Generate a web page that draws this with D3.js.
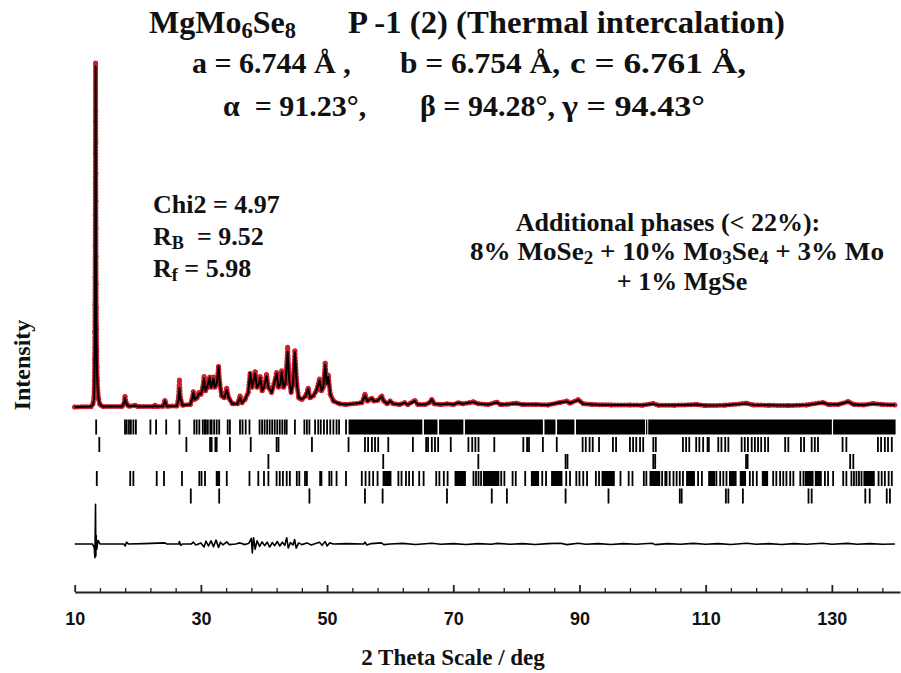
<!DOCTYPE html>
<html><head><meta charset="utf-8">
<script src="https://cdn.jsdelivr.net/npm/d3@7"></script>
<style>
html,body{margin:0;padding:0;background:#fff;}
svg{display:block;}
.serif{font-family:"Liberation Serif","Times New Roman",serif;font-weight:bold;fill:#111;white-space:pre;}
</style></head>
<body>
<svg id="chart" width="901" height="673"></svg>
<script>
// ---------- DATA ----------
const xTicksMajor = [10, 30, 50, 70, 90, 110, 130];
const xTicksMinor = [14,18,22,26,34,38,42,46,54,58,62,66,74,78,82,86,94,98,102,106,114,118,122,126,134,138];

// [2theta, observed, calculated]
const profile = [
[10.0,0.3,0.3],[12.6,0.4,0.4],[12.9,1.2,1.0],[13.05,3,2.5],[13.12,8,7],[13.16,14,13],[13.19,22,21],
[13.21,30,29],[13.23,38,38],[13.25,47,48],[13.26,56,58],[13.27,65,66],[13.28,74,75],[13.29,83,84],
[13.30,92,93],[13.31,100,99],[13.32,94,95],[13.33,86,87],[13.34,77,78],[13.35,68,70],[13.36,60,63],
[13.37,52,55],[13.38,44,46],[13.40,36,37],[13.42,29,30],[13.45,23,24],[13.48,17,18],[13.52,12,12],
[13.58,8,8],[13.66,5,5],[13.8,2.5,2.5],[14.0,1,1],[14.5,0.4,0.4],[17.5,0.4,0.4],[17.85,1.5,1.5],
[17.97,3.3,3.0],[18.1,1.8,1.8],[18.3,1.0,1.0],[18.6,0.5,0.5],[19.6,0.8,0.7],[20.0,0.4,0.4],[22.5,0.4,0.4],
[22.7,0.8,0.7],[23.0,0.4,0.4],[24.0,0.5,0.5],[24.3,2.2,2.0],[24.6,0.5,0.5],[26.2,0.6,0.6],[26.45,3,2.5],
[26.6,8.1,5.7],[26.75,3,2.8],[27.1,0.8,0.8],[28.3,1,1],[28.6,2.5,2.4],[28.8,4.7,4.5],[29.0,2.5,2.5],
[29.4,3,3],[29.7,4.5,4.2],[30.0,4,4],[30.3,6,5.8],[30.5,9.1,8.5],[30.7,5,5],[31.0,6,6],[31.2,8,7.5],
[31.4,9,8.8],[31.6,6,6],[31.8,7,7],[32.0,9,8.5],[32.2,6,6],[32.5,7,7],[32.8,12,12],[33.0,7,7],
[33.3,3.5,3.5],[33.7,3,3],[34.1,5.7,5.2],[34.4,3,3],[35.0,1.2,1.2],[35.8,1.2,1.2],[36.2,3.5,3.0],
[36.5,1.5,1.5],[37.0,2.5,2.5],[37.5,4.5,4.5],[37.8,10,10.2],[38.1,6,6],[38.3,7,7.5],[38.6,10.5,10],
[38.9,6,6],[39.2,7,7],[39.4,9.1,8.8],[39.7,5,5],[40.0,6,6],[40.4,9.7,9.2],[40.7,6,6],[41.2,4.5,4.5],
[41.6,7,7],[42.0,10.3,10],[42.3,6,6],[42.6,7,7],[42.8,10.8,10.4],[43.1,6,6],[43.4,7,7],[43.75,17.6,16.3],
[44.0,8,8],[44.3,4.5,4.5],[44.6,7,7],[44.9,16.6,16.2],[45.2,7,7],[45.5,3,3],[46.0,2.5,2.5],[46.6,3.5,3.5],
[47.0,5.7,5.5],[47.3,3,3],[47.8,3.5,3.5],[48.3,5,5],[48.8,8.4,8.0],[49.1,5,5],[49.4,6,6],[49.7,13,12.5],
[49.95,7,7],[50.2,9.5,9.0],[50.5,4,4],[51.0,2,2],[52.0,1.2,1.2],[53.0,1.0,1.0],[55.5,1.5,1.5],[56.0,4,3.6],
[56.4,2,2],[56.8,2.5,2.5],[57.1,2.8,2.8],[57.4,2,2],[58.0,2.2,2.2],[58.65,3.5,3.3],[59.0,2,2],[59.5,1.2,1.2],
[60.0,2,2],[60.5,1.2,1.2],[61.5,1.0,1.0],[62.3,1.5,1.5],[62.8,1.0,1.0],[63.9,2.2,2.0],[64.4,1.0,1.0],
[65.5,1.0,1.0],[66.2,1.5,1.5],[66.6,2.5,2.4],[67.0,1.2,1.2],[68.0,1.0,1.0],[69.0,1.2,1.2],[70.0,1.0,1.0],
[70.8,1.5,1.5],[71.5,1.2,1.2],[72.5,1.5,1.5],[73.2,1.8,1.7],[74.0,1.2,1.2],[75.5,1.0,1.0],[76.9,1.7,1.6],
[77.5,1.0,1.0],[78.5,1.1,1.1],[80.0,1.4,1.3],[81.0,1.0,1.0],[83.0,1.0,1.0],[85.0,0.9,0.9],[86.9,1.6,1.6],
[88.0,2.0,1.9],[88.5,1.4,1.4],[89.8,2.4,2.3],[90.6,1.2,1.2],[92.0,1.0,1.0],[95.0,0.9,0.9],[98.0,0.9,0.9],
[100.0,0.8,0.8],[101.7,1.3,1.2],[102.5,0.8,0.8],[105.0,0.8,0.8],[108.6,1.0,1.0],[110.0,0.7,0.7],
[113.0,0.8,0.8],[116.5,1.4,1.3],[117.5,0.9,0.9],[120.0,0.8,0.8],[123.0,0.7,0.7],[126.0,0.9,0.9],
[128.6,1.6,1.5],[129.5,1.0,1.0],[131.0,1.0,1.0],[132.6,1.9,1.8],[133.5,1.0,1.0],[135.0,0.9,0.9],
[136.6,1.3,1.2],[138.0,1.0,1.0],[140.0,0.9,0.9]
];

// [2theta, obs - calc]
const difference = [
[10,0],[12.8,0],[13.1,-1],[13.2,-4],[13.25,3],[13.3,11.5],[13.35,-3.5],[13.4,2.5],[13.5,-1.5],[13.7,1],[14,0],
[17.8,0],[18.0,-0.6],[18.2,0.5],[18.5,0],[21,0.1],[24.3,0.3],[24.6,0],[26.5,0],[26.6,0.7],[26.8,-0.4],[27.1,0],
[28.5,0],[28.8,0.5],[29.2,-0.3],[30.0,0.3],[30.5,-0.9],[30.8,0.8],[31.2,-0.6],[31.6,0.9],[32.0,-0.8],[32.4,1.1],
[32.8,-1],[33.1,0.5],[33.5,-0.3],[34.1,0.6],[34.5,-0.2],[35.5,0],[36.2,0.3],[37.0,-0.2],[37.6,0.2],[38.0,1.6],
[38.15,-2.6],[38.35,1.8],[38.6,-1.5],[38.9,0.9],[39.3,-0.7],[39.7,0.6],[40.1,-0.5],[40.5,0.5],[40.9,-0.9],
[41.3,0.4],[41.7,-0.5],[42.1,0.7],[42.5,-0.6],[42.9,0.5],[43.3,-0.4],[43.6,1.8],[43.85,-1.2],[44.2,0.4],
[44.6,-0.3],[44.85,1.3],[45.1,-1.2],[45.5,0.3],[46.0,-0.2],[46.8,0.3],[47.5,-0.3],[48.3,0.2],[48.8,0.5],
[49.2,-0.4],[49.7,0.7],[50.0,-0.6],[50.4,0.3],[51,0],[53,0.1],[55.8,0],[56.0,0.5],[56.3,-0.3],[57,0.1],
[58.6,0.3],[59,-0.2],[60,0],[62,0.15],[64,-0.15],[66.6,0.2],[68,-0.1],[70,0.1],[72,-0.15],[74,0.1],[76,-0.1],
[77,0.15],[79,-0.1],[81,0.1],[83,-0.15],[85,0.1],[87,0.2],[88,-0.2],[89.8,0.2],[91,-0.1],[93,0.1],[95,-0.15],
[97,0.1],[99,-0.1],[101.5,0.2],[102,-0.2],[104,0.1],[106,-0.1],[108,0.15],[110,-0.1],[112,0.1],[114,-0.15],
[116.5,0.2],[118,-0.1],[120,0.1],[122,-0.15],[124,0.1],[126,-0.1],[128.5,0.2],[130,-0.1],[132.5,0.15],
[134,-0.1],[136,0.1],[138,-0.1],[140,0]
];

// Bragg reflection positions (2theta) for each phase
const ticksMgMo6Se8 = [13.4,17.97,18.24,18.6,18.9,19.3,19.7,22.0,22.9,24.5,26.6,28.95,29.33,29.75,30.3,30.6,30.8,
31.1,31.5,31.7,32.1,32.5,32.9,34.25,34.6,36.2,36.6,37.1,37.7,39.3,39.7,40.1,40.5,40.9,41.3,41.7,42.1,42.5,42.9,
43.3,43.6,44.9,46.4,46.8,47.2,48.1,48.6,49.0,49.5,50.0,50.5,51.0,51.5,51.9,53.0];
const bandsMgMo6Se8 = [[53.4,65.1],[65.35,67.5],[67.75,71.6],[71.85,84.2],[84.45,86.2],[86.45,89.2],
[89.45,100.4],[100.55,100.75],[100.9,130.0],[130.2,140.1]];
const ticksMoSe2 = [13.9,27.7,31.45,31.7,32.3,32.5,34.6,37.9,42.0,42.3,47.6,53.4,56.0,56.5,57.1,57.6,58.1,59.7,
63.6,65.7,66.0,66.6,67.1,67.6,69.6,72.4,73.0,73.5,74.0,76.5,81.1,81.7,82.0,84.2,86.4,90.5,91.0,91.6,92.1,93.1,
95.3,95.8,98.0,98.5,99.0,99.6,100.1,101.7,102.1,106.4,106.9,107.4,108.5,109.0,109.6,110.3,110.5,112.0,112.5,
113.1,113.6,115.7,116.2,116.7,117.3,117.8,118.3,118.8,119.4,119.9,122.6,123.1,125.1,125.6,126.8,127.3,127.8,
131.7,132.3,137.3,137.8,138.4,138.9,139.5];
const ticksMo = [40.7,58.9,73.97,87.8,88.1,101.7,102.0,116.4,116.65,132.9,133.4];
const ticksMo3Se4 = [13.5,18.8,19.3,23.0,24.15,27.0,29.75,30.1,30.65,32.5,32.7,32.9,34.1,37.7,39.1,40.0,40.7,
42.0,42.5,43.0,43.6,44.1,45.2,45.6,46.5,46.8,48.9,49.1,50.35,50.7,51.5,53.0,55.5,56.1,56.7,57.3,58.0,61.3,61.8,
62.5,63.0,63.6,64.6,65.3,67.3,67.8,68.5,69.1,73.2,73.6,74.0,74.4,77.6,78.1,79.4,79.9,81.4,84.1,84.7,87.9,88.5,
89.5,90.0,90.6,91.2,92.6,93.1,96.5,97.8,98.4,100.2,100.6,103.1,103.6,103.8,104.3,104.9,105.4,105.9,106.4,108.8,
109.4,111.7,112.3,112.8,113.3,117.0,117.5,118.1,120.7,121.2,121.8,122.3,122.8,123.4,123.9,125.0,125.5,128.9,
129.4,130.2,131.8,132.3,133.1,133.5,133.9,134.3,134.7,137.4,137.9,138.4,139.0,139.5];
const bandsMo3Se4 = [[58.8,60.2],[70.2,72.0],[74.7,77.3],[82.3,83.6],[85.5,87.3],[93.5,95.6],[101.1,102.8],
[106.9,108.3],[110.4,111.5],[113.7,114.9],[115.4,116.4],[118.9,119.9],[125.7,127.1],[127.3,128.4],[135.0,136.8]];
const ticksMgSe = [28.4,32.9,47.2,56.0,58.8,69.0,76.1,78.5,87.8,94.6,105.9,106.2,113.2,113.6,115.9,126.3,126.8,
135.3,136.0,138.7,139.2];

const phaseRows = [
  {ticks: ticksMgMo6Se8, bands: bandsMgMo6Se8},
  {ticks: ticksMoSe2, bands: []},
  {ticks: ticksMo, bands: []},
  {ticks: ticksMo3Se4, bands: bandsMo3Se4},
  {ticks: ticksMgSe, bands: []}
];

// ---------- LAYOUT ----------
const svg = d3.select("#chart");
const x = d3.scaleLinear().domain([10, 140.8]).range([74.7, 900]);
const y = d3.scaleLinear().domain([0, 100]).range([408, 63]);
const diffOffset = -39.4;          // difference curve baseline (intensity units)
const rowTop = [419.5, 437, 454, 471, 488.5];
const tickLen = 15;
const axisY = 592;
const red = "#cf1d2a";

// observed (red dots)
const lineObs = d3.line().x(d => x(d[0])).y(d => y(d[1]));
svg.append("path").datum(profile).attr("d", lineObs)
  .attr("fill","none").attr("stroke",red).attr("stroke-width",5)
  .attr("stroke-dasharray","0,3.2").attr("stroke-linecap","round").attr("stroke-linejoin","round");
svg.append("g").selectAll("circle").data(profile).join("circle")
  .attr("cx", d => x(d[0])).attr("cy", d => y(d[1])).attr("r", 2.5).attr("fill", red);

// calculated (black)
const lineCalc = d3.line().x(d => x(d[0])).y(d => y(d[2]));
svg.append("path").datum(profile).attr("d", lineCalc)
  .attr("fill","none").attr("stroke","#000").attr("stroke-width",2).attr("stroke-linejoin","round");

// Bragg ticks
phaseRows.forEach((row, i) => {
  const g = svg.append("g");
  g.selectAll("rect.t").data(row.ticks).join("rect").attr("class","t")
    .attr("x", d => x(d) - 0.9).attr("width", 1.8)
    .attr("y", rowTop[i]).attr("height", tickLen).attr("fill", "#000");
  g.selectAll("rect.b").data(row.bands).join("rect").attr("class","b")
    .attr("x", d => x(d[0])).attr("width", d => x(d[1]) - x(d[0]))
    .attr("y", rowTop[i]).attr("height", tickLen).attr("fill", "#000");
});

// difference curve
const lineDiff = d3.line().x(d => x(d[0])).y(d => y(diffOffset + d[1]));
svg.append("path").datum(difference).attr("d", lineDiff)
  .attr("fill","none").attr("stroke","#000").attr("stroke-width",1.6).attr("stroke-linejoin","round");

// x axis
const axisMajor = d3.axisBottom(x).tickValues(xTicksMajor).tickSize(-7).tickSizeOuter(0).tickPadding(20)
  .tickFormat(d3.format("d"));
const gAx = svg.append("g").attr("transform", `translate(0,${axisY})`).call(axisMajor);
gAx.select(".domain").attr("stroke","#222").attr("stroke-width",2);
gAx.selectAll(".tick line").attr("stroke","#222").attr("stroke-width",1.8);
gAx.selectAll(".tick text").attr("fill","#111")
  .style("font-family","'Liberation Sans',Arial,sans-serif").style("font-weight","bold").style("font-size","18px");
const axisMinor = d3.axisBottom(x).tickValues(xTicksMinor).tickSize(-4).tickSizeOuter(0).tickFormat("");
const gMin = svg.append("g").attr("transform", `translate(0,${axisY})`).call(axisMinor);
gMin.select(".domain").remove();
gMin.selectAll(".tick line").attr("stroke","#222").attr("stroke-width",1.3);

// axis titles
svg.append("text").attr("class","serif").attr("x", 453).attr("y", 665).attr("text-anchor","middle")
  .style("font-size","23px").text("2 Theta Scale / deg");
svg.append("text").attr("class","serif").attr("transform","translate(30,365) rotate(-90)")
  .attr("text-anchor","middle").style("font-size","24px").text("Intensity");

// rich text helper
function addRich(xp, yp, size, parts, anchor, fitWidth) {
  const t = svg.append("text").attr("class","serif").attr("x", xp).attr("y", yp)
    .style("font-size", size + "px").attr("text-anchor", anchor || "start");
  parts.forEach(p => {
    if (typeof p === "string") t.append("tspan").text(p);
    else t.append("tspan").attr("baseline-shift", "-24%").style("font-size", (size * 0.7) + "px").text(p.sub);
  });
  if (fitWidth) t.attr("textLength", fitWidth).attr("lengthAdjust", "spacingAndGlyphs");
  return t;
}
// title block
addRich(149, 33, 32, ["MgMo", {sub:"6"}, "Se", {sub:"8"}], "start", 147);
addRich(348, 33, 32, ["P -1 (2) (Thermal intercalation)"], "start", 437);
addRich(192, 73, 30, ["a = 6.744 Å ,"]);
addRich(400, 73, 30, ["b = 6.754 Å,"], "start", 160);
addRich(570, 73, 30, ["c = 6.761 Å,"], "start", 176);
addRich(223, 116, 30, ["α  = 91.23°,"]);
addRich(420, 116, 30, ["β = 94.28°,"]);
addRich(562, 116, 30, ["γ = 94.43°"], "start", 143);

// statistics
addRich(153, 213, 26, ["Chi2 = 4.97"]);
addRich(153, 245, 26, ["R", {sub:"B"}, "  = 9.52"]);
addRich(153, 277, 26, ["R", {sub:"f"}, " = 5.98"]);

// additional phases
addRich(668, 231, 26, ["Additional phases (< 22%):"], "middle");
addRich(677, 260, 26, ["8% MoSe", {sub:"2"}, " + 10% Mo", {sub:"3"}, "Se", {sub:"4"}, " + 3% Mo"], "middle", 414);
addRich(682, 290, 26, ["+ 1% MgSe"], "middle");
</script>
</body></html>
